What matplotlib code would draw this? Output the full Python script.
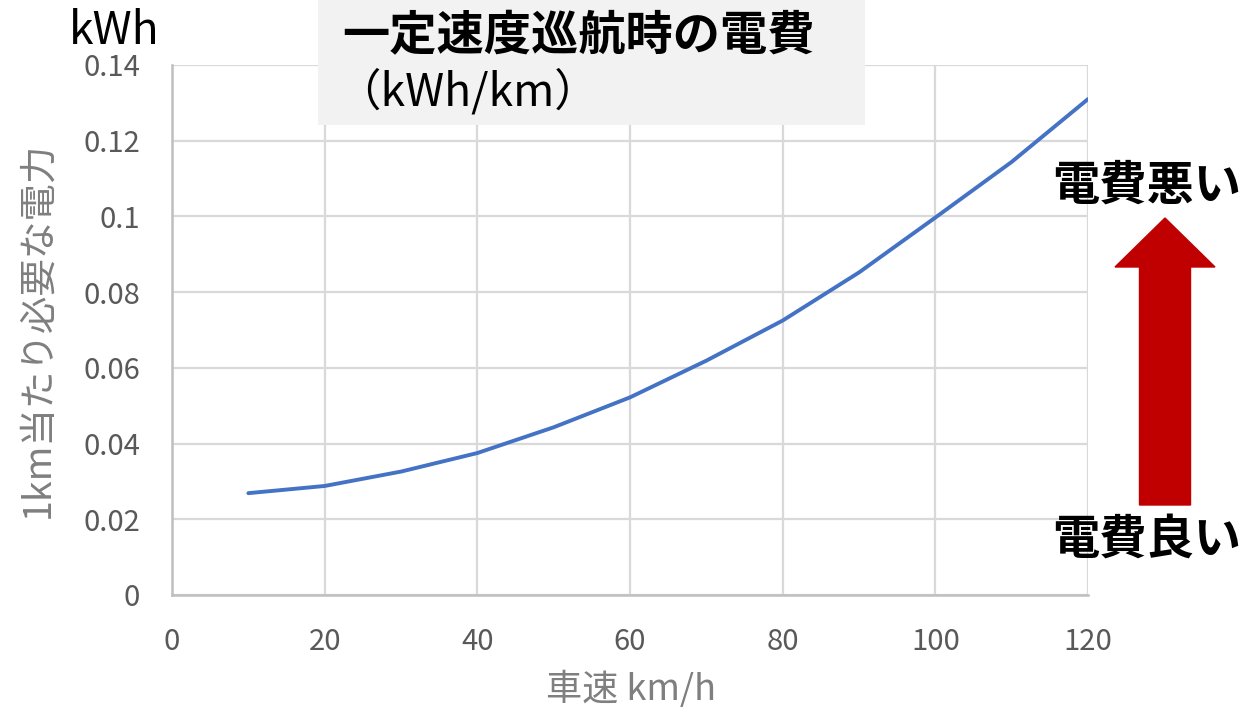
import matplotlib
matplotlib.use("Agg")
import matplotlib.pyplot as plt
from matplotlib.patches import FancyArrow, Rectangle

plt.rcParams['font.family'] = ['Noto Sans CJK JP', 'DejaVu Sans']

# Speed (km/h) and energy per km (kWh/km)
speed = [10, 20, 30, 40, 50, 60, 70, 80, 90, 100, 110, 120]
energy = [0.0269, 0.0288, 0.0326, 0.0375, 0.0443, 0.0522, 0.0619, 0.0725, 0.0852, 0.0997, 0.1144, 0.1310]
x_ticks = [0, 20, 40, 60, 80, 100, 120]
y_ticks = [0, 0.02, 0.04, 0.06, 0.08, 0.1, 0.12, 0.14]
y_tick_labels = ['0', '0.02', '0.04', '0.06', '0.08', '0.1', '0.12', '0.14']

W, H = 1247, 710
fig = plt.figure(figsize=(W / 100, H / 100), dpi=100)
fig.patch.set_facecolor('white')

ax = fig.add_axes([172 / W, 1 - 595 / H, (1088 - 172) / W, (595 - 65) / H])
ax.plot(speed, energy, color='#4472C4', linewidth=2.8, solid_capstyle='round')
ax.set_xlim(0, 120)
ax.set_ylim(0, 0.14)
ax.set_xticks(x_ticks)
ax.set_yticks(y_ticks)
ax.set_yticklabels(y_tick_labels)
ax.grid(True, color='#D9D9D9', linewidth=1.6)
ax.set_axisbelow(True)
for side in ['top', 'right']:
    ax.spines[side].set_visible(False)
for side in ['left', 'bottom']:
    ax.spines[side].set_color('#BFBFBF')
    ax.spines[side].set_linewidth(1.8)
ax.tick_params(length=0, labelsize=21, colors='#595959')
ax.tick_params(axis='y', pad=23)
ax.tick_params(axis='x', pad=23)

fig.text(38 / W, 1 - 330 / H, '1km当たり必要な電力', rotation=90, ha='center', va='center',
         fontsize=27, color='#7F7F7F')
fig.text(631 / W, 1 - 689 / H, '車速 km/h', ha='center', va='center', fontsize=26, color='#7F7F7F')

fig.text(114 / W, 1 - 31 / H, 'kWh', ha='center', va='center', fontsize=32, color='black')

# Title box
fig.patches.append(Rectangle((318 / W, 1 - 125 / H), (865 - 318) / W, 125 / H,
                             transform=fig.transFigure, facecolor='#F2F2F2', edgecolor='none', zorder=5))
fig.text(578 / W, 1 - 36 / H, '一定速度巡航時の電費', ha='center', va='center', fontsize=34,
         fontweight='bold', color='black', zorder=6)
fig.text(336 / W, 1 - 92 / H, '（kWh/km）', ha='left', va='center', fontsize=32,
         color='black', zorder=6)

# Direction arrow
fig.patches.append(FancyArrow(1165 / W, 1 - 505 / H, 0, (505 - 218) / H, width=51 / W,
                              head_width=100 / W, head_length=49 / H, length_includes_head=True,
                              transform=fig.transFigure, color='#C00000', zorder=5))
fig.text(1147 / W, 1 - 186 / H, '電費悪い', ha='center', va='center', fontsize=34,
         fontweight='bold', color='black')
fig.text(1147 / W, 1 - 540 / H, '電費良い', ha='center', va='center', fontsize=34,
         fontweight='bold', color='black')

fig.savefig('out.png', dpi=100)
